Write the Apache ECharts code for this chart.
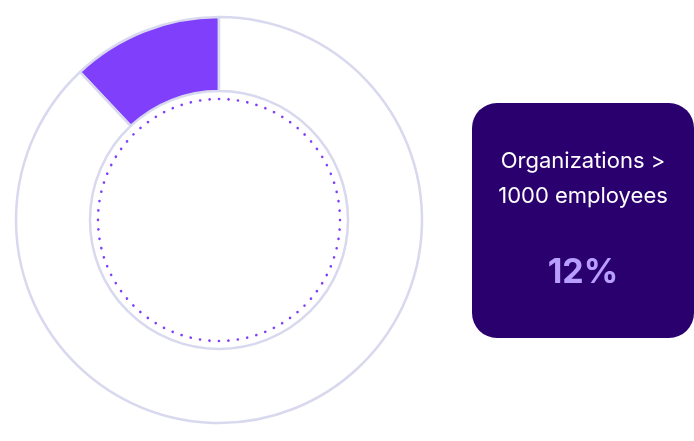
<!DOCTYPE html>
<html>
<head>
<meta charset="utf-8">
<script src="https://cdn.jsdelivr.net/npm/echarts@6/dist/echarts.min.js"></script>
<style>html,body{margin:0;padding:0;background:#fff}#c{width:694px;height:441px}</style>
</head>
<body>
<div id="c"></div>
<script>
var categories = ['Organizations > 1000 employees', 'Other'];
var values = [12, 88];
var labelLines = ['Organizations >', '1000 employees'];
var valueLabel = '12%';

var chart = echarts.init(document.getElementById('c'));
chart.setOption({
  animation: false,
  series: [{
    type: 'pie',
    center: [219, 220],
    radius: [129, 203],
    startAngle: 90,
    clockwise: false,
    silent: true,
    label: {show: false},
    labelLine: {show: false},
    itemStyle: {borderColor: '#D8D8EE', borderWidth: 2.5},
    data: categories.map(function (c, i) {
      return {name: c, value: values[i], itemStyle: {color: i === 0 ? '#7F3FFB' : '#FFFFFF'}};
    })
  }],
  graphic: [
    {type: 'circle', shape: {cx: 219, cy: 220, r: 121}, style: {fill: 'none', stroke: '#7F3FFB', lineWidth: 2.6, lineDash: [0.1, 9.4], lineCap: 'round'}},
    {type: 'rect', shape: {x: 472, y: 103, width: 222, height: 235, r: 25}, style: {fill: '#2A006F'}},
    {type: 'text', x: 583, y: 161, style: {text: labelLines[0], fill: '#FFFFFF', font: '22px Inter', textAlign: 'center', textVerticalAlign: 'middle'}},
    {type: 'text', x: 583, y: 196, style: {text: labelLines[1], fill: '#FFFFFF', font: '22px Inter', textAlign: 'center', textVerticalAlign: 'middle'}},
    {type: 'text', x: 583, y: 273, style: {text: valueLabel, fill: '#B89EFF', font: 'bold 34px Inter', textAlign: 'center', textVerticalAlign: 'middle'}}
  ]
});
</script>
</body>
</html>
